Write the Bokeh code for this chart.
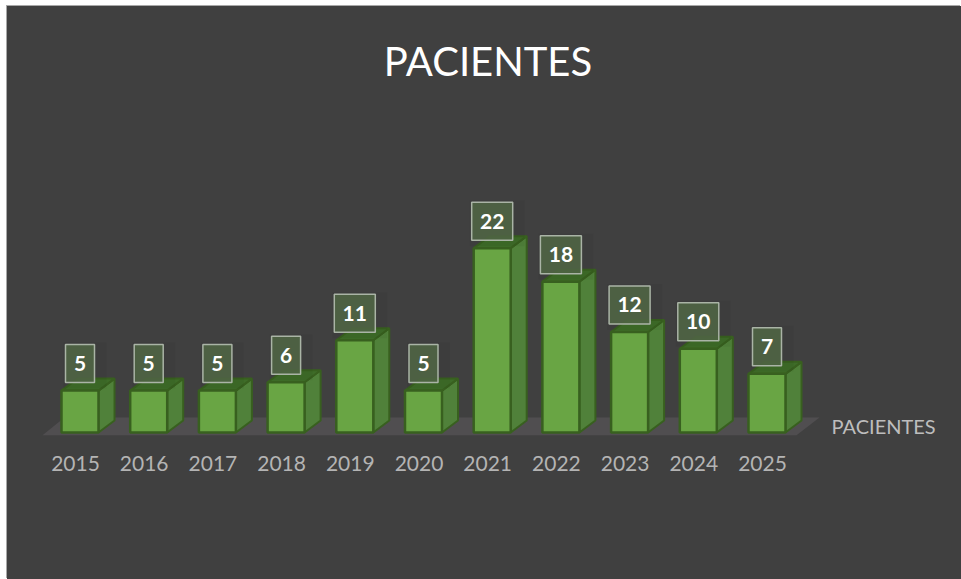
from bokeh.plotting import figure
from bokeh.models import Range1d, FixedTicker
from bokeh.core.properties import value
from bokeh.embed import file_html
from bokeh.resources import INLINE

years = ["2015", "2016", "2017", "2018", "2019", "2020", "2021", "2022", "2023", "2024", "2025"]
pacientes = [5, 5, 5, 6, 11, 5, 22, 18, 12, 10, 7]
series_name = "PACIENTES"
chart_title = "PACIENTES"

BG = "#404040"
PX_X = 68.7   # px per category
PX_Y = 8.38   # px per patient
X0 = 75
OFF = 4.5 / PX_X
W = 37 / PX_X
DX = 16 / PX_X
DY = 12 / PX_Y

p = figure(width=954, height=573, output_backend="svg", toolbar_location=None,
           x_range=Range1d((7 - X0) / PX_X, (961 - X0) / PX_X),
           y_range=Range1d((432 - 437) / PX_Y, (432 - 6) / PX_Y),
           min_border_top=0, min_border_bottom=142, min_border_left=0, min_border_right=0,
           background_fill_color=None, border_fill_color=None, outline_line_color=None,
           margin=(6, 0, 0, 7))
p.styles = {"background-color": BG, "box-shadow": "-1px -1px 0 #a8a8a8"}

p.grid.visible = False
p.yaxis.visible = False
ax = p.xaxis[0]
ax.ticker = FixedTicker(ticks=list(range(len(years))))
ax.major_label_overrides = {i: y for i, y in enumerate(years)}
ax.major_label_text_font = "Lato"
ax.major_label_text_font_size = "21px"
ax.major_label_text_color = "#b4b4b4"
ax.major_label_standoff = 12
ax.axis_line_color = None
ax.major_tick_line_color = None
ax.minor_tick_line_color = None

# title
p.text(x=[(487.5 - X0) / PX_X], y=[(432 - 60) / PX_Y], text=[chart_title], text_align="center", text_baseline="middle",
       text_color="#ffffff", text_font=value("Lato"), text_font_size="40px")

# floor
n = len(years)
fl = (42 - X0) / PX_X
fr = (796 - X0) / PX_X
fy = (432 - 434.7) / PX_Y
by = (432 - 417) / PX_Y
p.patch([fl, fr, (819 - X0) / PX_X, (64 - X0) / PX_X], [fy, fy, by, by], fill_color="#504e50", line_color=None)

xs = [i + OFF for i in range(n)]
EDGE = "#38601f"
side_x = [[x + W / 2, x + W / 2 + DX, x + W / 2 + DX, x + W / 2] for x in xs]
side_y = [[0, DY, v + DY, v] for v in pacientes]
top_x = [[x - W / 2, x + W / 2, x + W / 2 + DX, x - W / 2 + DX] for x in xs]
top_y = [[v, v, v + DY, v + DY] for v in pacientes]
p.patches(side_x, side_y, fill_color="#50813a", line_color=EDGE, line_width=2)
p.patches(top_x, top_y, fill_color="#3e6c28", line_color=EDGE, line_width=2)
p.quad(left=[x - W / 2 for x in xs], right=[x + W / 2 for x in xs], bottom=[0] * n, top=pacientes,
       fill_color="#69a544", line_color=EDGE, line_width=2.5)

# data labels
widths = [29 if v < 10 else 41 for v in pacientes]
label_y = [v + 27 / PX_Y for v in pacientes]
p.rect(x=[x + 5 / PX_X for x in xs], y=[y - 2 / PX_Y for y in label_y], width=[w + 14 for w in widths], height=46,
       width_units="screen", height_units="screen", fill_color="#000000", fill_alpha=0.04, line_color=None)
p.rect(x=xs, y=label_y, width=widths, height=38, width_units="screen", height_units="screen",
       fill_color="#4f6444", fill_alpha=0.9, line_color="#aab4a6", line_width=1.5)
p.text(x=xs, y=label_y, text=[str(v) for v in pacientes], text_align="center", text_baseline="middle",
       text_color="#ffffff", text_font=value("Lato"), text_font_style="bold", text_font_size="21px")

# series axis label
p.text(x=[(831 - X0) / PX_X], y=[(432 - 425) / PX_Y], text=[series_name], text_align="left", text_baseline="middle",
       text_color="#bdbdbd", text_font=value("Lato"), text_font_size="20px")

open("out.html", "w").write(file_html(p, INLINE))
